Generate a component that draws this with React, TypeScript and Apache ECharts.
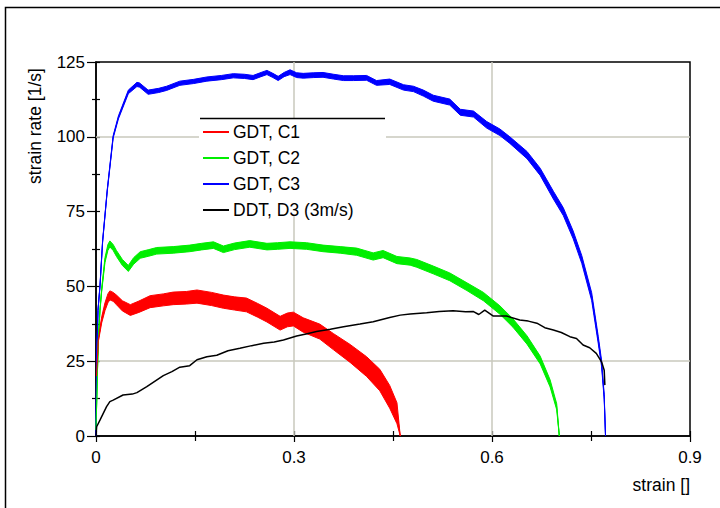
import React, { useEffect, useRef } from 'react';
import * as echarts from 'echarts';

const FONT = '"Liberation Sans", Arial, Helvetica, sans-serif';

const seriesNames = ['GDT, C1', 'GDT, C2', 'GDT, C3', 'DDT, D3 (3m/s)'];
const seriesColors = ['#ff0000', '#00ee00', '#0000ff', '#000000'];
const xAxisName = 'strain []';
const yAxisName = 'strain rate [1/s]';
const gridX = [0.3, 0.6];
const gridY = [25, 100];

// [strain, strain rate, noise half-width]
const c1: number[][] = [
  [0.0008, 20, 0], [0.0035, 32, 0.5], [0.0086, 38.8, 1], [0.0136, 43.2, 1.3], [0.018, 46, 1.5],
  [0.021, 47, 1.5], [0.026, 46.5, 1.5], [0.031, 45.5, 1.6], [0.04, 43.5, 1.7], [0.052, 42.1, 1.8],
  [0.065, 43.2, 1.9], [0.082, 44.9, 2], [0.102, 45.5, 2], [0.117, 46, 2.1], [0.137, 46.2, 2.1],
  [0.153, 46.6, 2.2], [0.175, 45.8, 2.2], [0.193, 44.9, 2.2], [0.21, 44.3, 2.2], [0.228, 43.8, 2.3],
  [0.245, 42, 2.3], [0.259, 40.4, 2.3], [0.279, 37.7, 2.3], [0.29, 38.8, 2.3], [0.299, 39.1, 2.3],
  [0.314, 37.1, 2.4], [0.339, 34.9, 2.5], [0.36, 31.5, 2.7], [0.385, 27.6, 3], [0.41, 23.2, 3.3],
  [0.43, 18.7, 3.6], [0.445, 13.1, 3.8], [0.456, 7.6, 3.5], [0.461, 0, 0],
];

const c2: number[][] = [
  [0, 2, 0], [0.002, 20, 0], [0.0035, 32, 0], [0.006, 42, 0.3], [0.0086, 48.8, 0.5], [0.0136, 58.8, 0.8],
  [0.018, 63, 1], [0.021, 64.2, 1], [0.026, 63, 1], [0.031, 61, 1], [0.04, 58, 1], [0.049, 56, 1],
  [0.057, 58.5, 1.1], [0.067, 60.5, 1.1], [0.08, 61.2, 1.1], [0.092, 61.9, 1.1], [0.117, 62.2, 1.1],
  [0.142, 62.7, 1.1], [0.16, 63.3, 1.1], [0.178, 63.8, 1.1], [0.193, 62.4, 1.1], [0.21, 63.4, 1.1],
  [0.233, 64.2, 1.1], [0.259, 63.3, 1.1], [0.275, 63.5, 1.1], [0.294, 63.8, 1.1], [0.319, 63.5, 1.1],
  [0.344, 62.7, 1.1], [0.37, 62.2, 1.1], [0.395, 61.6, 1.2], [0.42, 60.0, 1.2], [0.435, 60.8, 1.2],
  [0.456, 58.8, 1.2], [0.476, 58.3, 1.2], [0.486, 57.7, 1.3], [0.511, 55.5, 1.3], [0.536, 53.2, 1.3],
  [0.562, 49.9, 1.3], [0.587, 46.6, 1.4], [0.612, 42.1, 1.4], [0.632, 37.7, 1.4], [0.653, 32.1, 1.4],
  [0.673, 25.4, 1.3], [0.688, 17.6, 1.2], [0.698, 9.8, 1], [0.702, 0, 0],
];

const c3: number[][] = [
  [0, 0, 0], [0.001, 25, 0], [0.003, 42, 0], [0.006, 50, 0.3], [0.01, 65, 0.3], [0.017, 82, 0.3],
  [0.026, 100, 0.4], [0.034, 106.5, 0.5], [0.049, 115, 0.6], [0.062, 117.5, 0.7], [0.066, 117.3, 0.7],
  [0.079, 114.9, 0.7], [0.095, 115.5, 0.7], [0.107, 116.2, 0.7], [0.127, 117.9, 0.7], [0.148, 118.5, 0.7],
  [0.168, 119.3, 0.7], [0.19, 119.8, 0.7], [0.208, 120.4, 0.7], [0.225, 120.2, 0.7], [0.238, 119.8, 0.7],
  [0.25, 120.8, 0.7], [0.259, 121.5, 0.7], [0.268, 120.5, 0.7], [0.276, 119.5, 0.7], [0.285, 120.8, 0.7],
  [0.294, 121.6, 0.8], [0.304, 120.6, 0.8], [0.314, 120.4, 0.8], [0.33, 120.6, 0.8], [0.344, 120.7, 0.8],
  [0.36, 120.1, 0.8], [0.375, 119.6, 0.8], [0.39, 119.6, 0.8], [0.41, 119.7, 0.8], [0.425, 118.0, 0.8],
  [0.445, 118.4, 0.9], [0.466, 116.5, 0.9], [0.481, 116.0, 0.9], [0.496, 114.6, 1.0], [0.511, 112.9, 1.0],
  [0.536, 111.6, 1.0], [0.552, 108.2, 1.0], [0.572, 107.6, 1.0], [0.592, 104.0, 1.1], [0.612, 101.5, 1.1],
  [0.627, 98.9, 1.1], [0.653, 93.9, 1.2], [0.673, 88.3, 1.2], [0.693, 80.5, 1.3], [0.708, 75, 1.3],
  [0.723, 67.2, 1.3], [0.736, 59, 1.3], [0.751, 46.6, 1.3], [0.761, 32.1, 1.2], [0.766, 24.3, 1.0],
  [0.77, 13.1, 0.8], [0.772, 0, 0],
];

// [strain, strain rate]
const d3: number[][] = [
  [0, 0], [0.001, 3.1], [0.006, 5.3], [0.016, 9.8], [0.021, 11.5], [0.026, 12], [0.041, 13.7],
  [0.055, 14], [0.062, 14.5], [0.077, 16.5], [0.102, 20.2], [0.115, 21.5], [0.127, 23], [0.142, 23.5],
  [0.153, 25.5], [0.168, 26.5], [0.183, 27], [0.2, 28.5], [0.218, 29.3], [0.236, 30.2], [0.254, 31],
  [0.27, 31.4], [0.284, 32.1], [0.304, 33.4], [0.32, 34.2], [0.334, 34.9], [0.355, 35.7], [0.375, 36.5],
  [0.4, 37.4], [0.42, 38.2], [0.445, 39.6], [0.461, 40.4], [0.476, 40.8], [0.501, 41.2], [0.52, 41.6],
  [0.541, 41.9], [0.56, 41.5], [0.572, 41.6], [0.58, 40.6], [0.589, 42.1], [0.602, 40.1], [0.622, 40.1],
  [0.642, 38.8], [0.655, 38.4], [0.668, 37.7], [0.68, 36.2], [0.693, 35.4], [0.705, 34.6], [0.718, 33.2],
  [0.728, 32.6], [0.738, 30.4], [0.748, 29.5], [0.758, 27.6], [0.766, 24.8], [0.77, 22], [0.771, 17],
];

function band(name: string, rows: number[][], color: string) {
  return {
    type: 'custom',
    name,
    silent: true,
    z: 2,
    data: rows.map((r) => [r[0], r[1]]),
    encode: { x: 0, y: 1 },
    renderItem: (params: any, api: any) => {
      if (params.dataIndex !== 0) return null;
      const up = rows.map((r) => api.coord([r[0], r[1] + r[2]]));
      const lo = rows.map((r) => api.coord([r[0], Math.max(0, r[1] - r[2])])).reverse();
      return {
        type: 'polygon',
        shape: { points: up.concat(lo) },
        style: { fill: color, stroke: color, lineWidth: 1 },
      };
    },
  };
}

function line(i: number, rows: number[][], width: number, extra: any = {}) {
  return {
    type: 'line',
    name: seriesNames[i],
    data: rows.map((r) => [r[0], r[1]]),
    showSymbol: false,
    symbol: 'none',
    z: 3,
    lineStyle: { color: seriesColors[i], width },
    itemStyle: { color: seriesColors[i] },
    emphasis: { disabled: true },
    ...extra,
  };
}

export default function App() {
  const ref = useRef<HTMLDivElement>(null);
  useEffect(() => {
    if (!ref.current) return;
    const chart = echarts.init(ref.current, undefined, { renderer: 'svg' });
    const axisCommon = { type: 'value', splitLine: { show: false } };
    chart.setOption({
      animation: false,
      backgroundColor: '#ffffff',
      grid: { left: 96, right: 30, top: 62, bottom: 72, show: true, borderColor: '#000', borderWidth: 1.5 },
      xAxis: [
        {
          ...axisCommon, min: 0, max: 0.9, interval: 0.3, position: 'bottom',
          axisLine: { onZero: false, lineStyle: { color: '#000', width: 1.5 } },
          axisTick: { show: true, length: 6, lineStyle: { color: '#000', width: 1.2 } },
          minorTick: { show: true, splitNumber: 2, length: 5, lineStyle: { color: '#000', width: 1.2 } },
          axisLabel: { fontFamily: FONT, fontSize: 17, color: '#000', margin: 13,
            formatter: (v: number) => String(Math.round(v * 10) / 10) },
        },
        {
          ...axisCommon, min: 0, max: 0.9, interval: 0.3, position: 'bottom',
          axisLine: { show: false, onZero: false },
          axisTick: { show: true, inside: true, length: 5, lineStyle: { color: '#000', width: 1.2 } },
          minorTick: { show: true, splitNumber: 2, length: 5, lineStyle: { color: '#000', width: 1.2 } },
          axisLabel: { show: false },
        },
      ],
      yAxis: [
        {
          ...axisCommon, min: 0, max: 125, interval: 25, position: 'left',
          axisLine: { onZero: false, lineStyle: { color: '#000', width: 1.5 } },
          axisTick: { show: true, length: 9, lineStyle: { color: '#000', width: 1.2 } },
          minorTick: { show: true, splitNumber: 2, length: 4, lineStyle: { color: '#000', width: 1.2 } },
          axisLabel: { fontFamily: FONT, fontSize: 17, color: '#000', margin: 11 },
        },
        {
          ...axisCommon, min: 0, max: 125, interval: 25, position: 'left',
          axisLine: { show: false, onZero: false },
          axisTick: { show: true, inside: true, length: 4, lineStyle: { color: '#000', width: 1.2 } },
          minorTick: { show: true, splitNumber: 2, length: 4, lineStyle: { color: '#000', width: 1.2 } },
          axisLabel: { show: false },
        },
      ],
      legend: {
        data: seriesNames,
        orient: 'vertical',
        left: 203,
        top: 123,
        padding: 0,
        itemWidth: 26,
        itemHeight: 2,
        itemGap: 8,
        icon: 'rect',
        z: 20,
        selectedMode: false,
        textStyle: { fontFamily: FONT, fontSize: 17.5, color: '#000', padding: [0, 0, 0, -1] },
      },
      graphic: [
        { type: 'rect', z: 10, silent: true, shape: { x: 5.5, y: 7.5, width: 800, height: 600 },
          style: { fill: 'none', stroke: '#000', lineWidth: 1.5 } },
        { type: 'rect', z: 10, silent: true, shape: { x: 199, y: 118, width: 187, height: 96 },
          style: { fill: '#fff' } },
        { type: 'line', z: 11, silent: true, shape: { x1: 200, y1: 118.5, x2: 385, y2: 118.5 },
          style: { stroke: '#000', lineWidth: 1.5 } },
        { type: 'text', z: 11, silent: true, x: 35, y: 126, rotation: Math.PI / 2,
          style: { text: yAxisName, fontFamily: FONT, fontSize: 17.5, fill: '#000', align: 'center', verticalAlign: 'middle' } },
        { type: 'text', z: 11, silent: true, x: 690, y: 485,
          style: { text: xAxisName, fontFamily: FONT, fontSize: 17.5, fill: '#000', align: 'right', verticalAlign: 'middle' } },
      ],
      series: [
        band('C3 band', c3, seriesColors[2]),
        band('C2 band', c2, seriesColors[1]),
        band('C1 band', c1, seriesColors[0]),
        line(2, c3, 1),
        line(1, c2, 1),
        line(0, c1, 1, {
          markLine: {
            silent: true, symbol: 'none', z: 1, label: { show: false },
            lineStyle: { color: '#c8c8bc', width: 1.5, type: 'solid' },
            emphasis: { disabled: true },
            data: [...gridX.map((v) => ({ xAxis: v })), ...gridY.map((v) => ({ yAxis: v }))],
          },
        }),
        line(3, d3, 1.5, { z: 4 }),
      ],
    });
    return () => chart.dispose();
  }, []);
  return (
    <div ref={ref} style={{ position: 'fixed', left: 0, top: 0, width: 720, height: 508, background: '#fff' }} />
  );
}
